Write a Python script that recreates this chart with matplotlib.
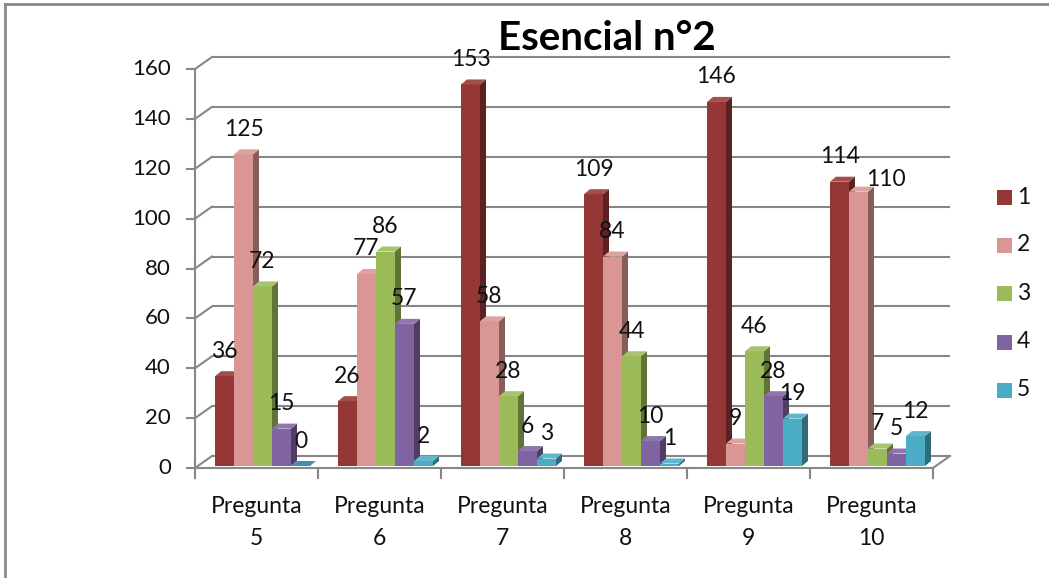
import matplotlib
matplotlib.use("Agg")
import matplotlib.pyplot as plt
from matplotlib.patches import Rectangle, Polygon
from matplotlib.lines import Line2D
import numpy as np

plt.rcParams['font.family'] = ['Lato', 'DejaVu Sans']

# ---- data ----
title = "Esencial n°2"
categories = ["Pregunta\n5", "Pregunta\n6", "Pregunta\n7",
              "Pregunta\n8", "Pregunta\n9", "Pregunta\n10"]
series_names = ["1", "2", "3", "4", "5"]
s1 = [36, 26, 153, 109, 146, 114]
s2 = [125, 77, 58, 84, 9, 110]
s3 = [72, 86, 28, 44, 46, 7]
s4 = [15, 57, 6, 10, 28, 5]
s5 = [0, 2, 3, 1, 19, 12]
y_ticks = [0, 20, 40, 60, 80, 100, 120, 140, 160]

series = [s1, s2, s3, s4, s5]
colors = ["#953735", "#D99694", "#9BBB59", "#8064A2", "#4BACC6"]

# ---- layout (pixels of the 1049x578 canvas) ----
W, H = 1049, 578
X0, CAT_PX = 195, 123          # front-left corner of plot floor, width of one category
Y0, UNIT_PX = 468, 399 / 160   # front floor line, pixels per value unit

def px_x(p):
    return (p - X0) / CAT_PX

def px_y(p):
    return (Y0 - p) / UNIT_PX

fig = plt.figure(figsize=(W / 100, H / 100), dpi=100)
ax = fig.add_axes([0, 0, 1, 1])
ax.set_xlim(px_x(0), px_x(W))
ax.set_ylim(px_y(H), px_y(0))
ax.axis("off")

# 3-D look: wall depth and bar depth
wall_dx, wall_dy = 17 / CAT_PX, 12 / UNIT_PX
bar_dx, bar_dy = 6 / CAT_PX, 5 / UNIT_PX
bar_base = 2 / UNIT_PX
gap = 20 / CAT_PX
bar_w = 19 / CAT_PX
ncat = len(categories)
x_right = ncat

grid_c = "#878787"
glw = 1.5

# back wall gridlines and left wall diagonals
for v in y_ticks:
    ax.plot([wall_dx, x_right + wall_dx], [v + wall_dy, v + wall_dy],
            color=grid_c, lw=glw, zorder=1, solid_capstyle="butt")
    ax.plot([0, wall_dx], [v, v + wall_dy], color=grid_c, lw=glw, zorder=1)
    ax.plot([px_x(187), 0], [v, v], color=grid_c, lw=glw, zorder=1)
    ax.text(px_x(171), v, str(v), ha="right", va="center", fontsize=16, color="#111111")

# floor
ax.plot([0, x_right], [0, 0], color=grid_c, lw=glw, zorder=1)
ax.plot([x_right, x_right + wall_dx], [0, wall_dy], color=grid_c, lw=glw, zorder=1)
# front value axis
ax.plot([0, 0], [0, y_ticks[-1]], color=grid_c, lw=glw, zorder=1)
# category ticks
for i in range(ncat + 1):
    ax.plot([i, i], [0, px_y(478)], color=grid_c, lw=glw, zorder=1)


def shade(hex_c, f):
    c = np.array(matplotlib.colors.to_rgb(hex_c))
    if f < 1:
        c = c * f
    else:
        c = c + (1 - c) * (f - 1)
    return np.clip(c, 0, 1)

# labels that sit beside their neighbours instead of straight above the bar
label_nudge = {(5, 1): (20, 9)}

# bars, painted left to right so right faces hide behind the next bar
z = 2
for i in range(ncat):
    for j, vals in enumerate(series):
        v = vals[i]
        left = i + gap + j * bar_w
        col = colors[j]
        right = left + bar_w
        b, t = bar_base, bar_base + v
        side = Polygon([(right, b), (right + bar_dx, b + bar_dy),
                        (right + bar_dx, t + bar_dy), (right, t)],
                       closed=True, facecolor=shade(col, 0.62), edgecolor="none", zorder=z)
        top = Polygon([(left, t), (right, t), (right + bar_dx, t + bar_dy),
                       (left + bar_dx, t + bar_dy)],
                      closed=True, facecolor=shade(col, 1.12) if v > 0 else shade(col, 0.85),
                      edgecolor="none", zorder=z)
        front = Rectangle((left, b), bar_w, v, facecolor=col, edgecolor="none", zorder=z)
        ax.add_patch(side)
        ax.add_patch(front)
        ax.add_patch(top)
        z += 1
        offset = label_nudge.get((i, j), (0, 18))
        ax.annotate(str(v), xy=(left + bar_w / 2, t), xytext=offset,
                    textcoords="offset points", ha="center", va="center",
                    fontsize=16.5, color="#111111", zorder=100)

# category labels
for i, cat in enumerate(categories):
    l1, l2 = cat.split("\n")
    ax.text(i + 0.5, px_y(513), l1, ha="center", va="baseline", fontsize=16.5, color="#111111")
    ax.text(i + 0.5, px_y(545), l2, ha="center", va="baseline", fontsize=16.5, color="#111111")

# legend
leg_y = [197, 245, 293, 342, 390]
for name, col, py in zip(series_names, colors, leg_y):
    fig.patches.append(Rectangle((997 / W, 1 - (py + 7.5) / H), 15 / W, 15 / H,
                                 transform=fig.transFigure, facecolor=col,
                                 edgecolor="none"))
    fig.text(1017 / W, 1 - py / H, name, ha="left", va="center", fontsize=16.5, color="#111111")

# title
fig.text(607 / W, 1 - 38 / H, title, ha="center", va="center",
         fontsize=29, fontweight="bold", color="#000000")

# chart area border (top and left edges)
fig.add_artist(Line2D([5 / W, 1], [1 - 4 / H, 1 - 4 / H], transform=fig.transFigure,
                      color="#8a8a8a", lw=2))
fig.add_artist(Line2D([5 / W, 5 / W], [1 - 4 / H, 0], transform=fig.transFigure,
                      color="#8a8a8a", lw=2))

fig.savefig("out.png", dpi=100, facecolor="white")
